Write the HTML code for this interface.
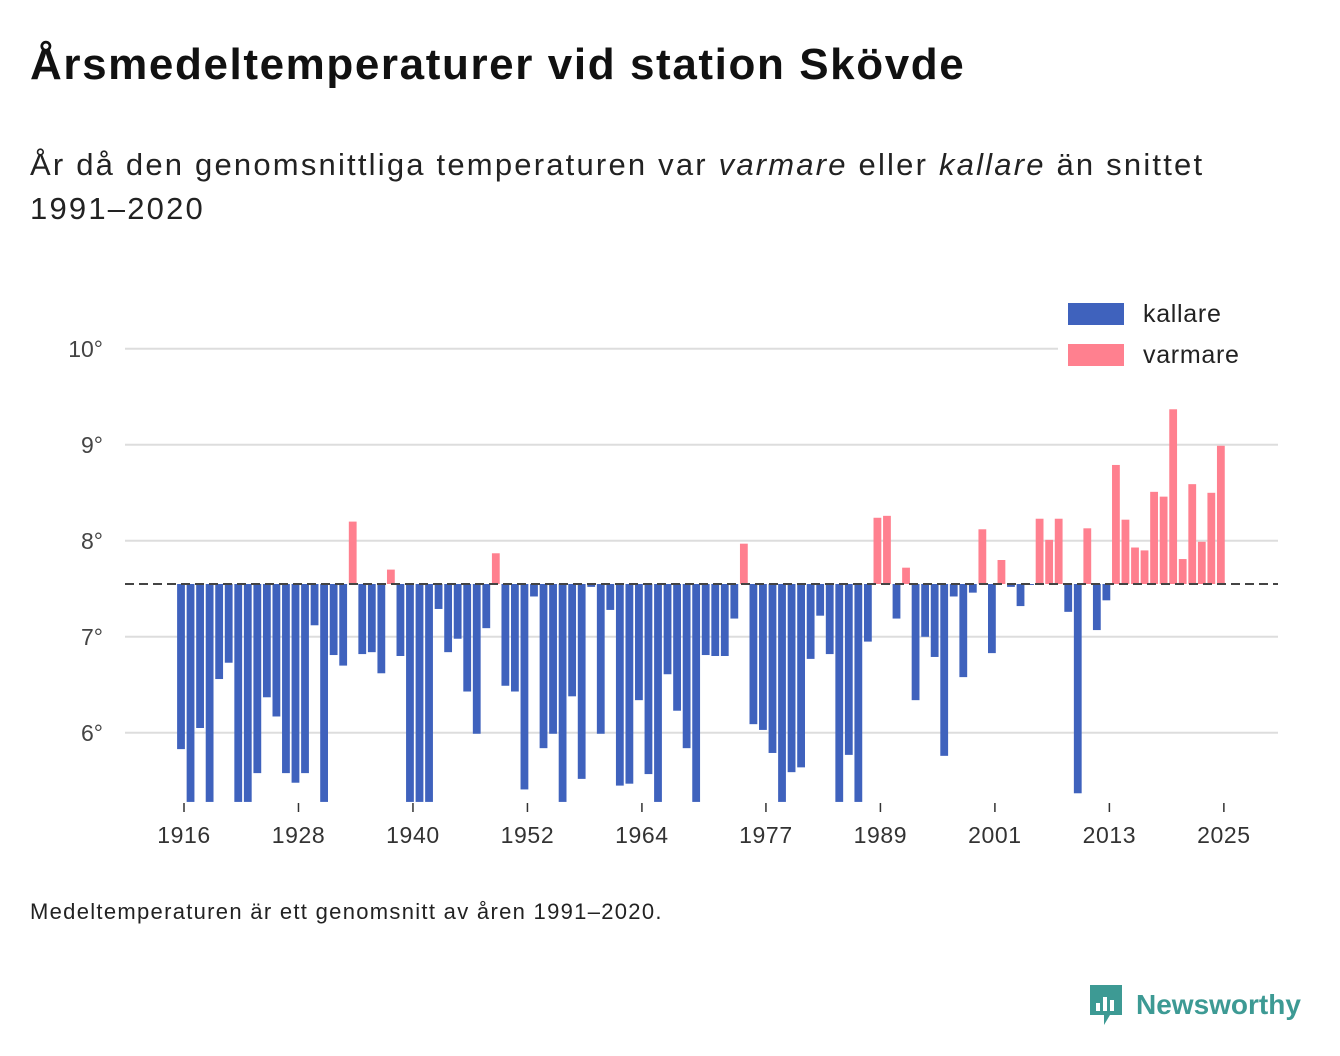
<!DOCTYPE html>
<html><head><meta charset="utf-8">
<style>
body{margin:0;width:1340px;height:1056px;background:#fff;font-family:"Liberation Sans",sans-serif;color:#111;position:relative;overflow:hidden}
h1{position:absolute;left:30px;top:40px;margin:0;font-size:44px;font-weight:bold;letter-spacing:1.6px;white-space:nowrap}
.sub{position:absolute;left:30px;top:143px;font-size:31px;line-height:44px;color:#222;width:1300px;letter-spacing:2.2px}
.foot{position:absolute;left:30px;top:899px;font-size:22px;color:#222;letter-spacing:1.3px;white-space:nowrap}
.logo{position:absolute;left:1088px;top:983px;display:flex;align-items:center;color:#3d9a94;font-weight:bold;font-size:28px}
svg{position:absolute;left:0;top:0}
</style></head><body>
<h1>Årsmedeltemperaturer vid station Skövde</h1>
<div class="sub">År då den genomsnittliga temperaturen var <i>varmare</i> eller <i>kallare</i> än snittet<br>1991–2020</div>
<div class="foot">Medeltemperaturen är ett genomsnitt av åren 1991–2020.</div>
<div class="logo">
<svg style="position:static" width="36" height="44" viewBox="0 0 36 44"><path d="M2 2h32v30H22l-6 10v-10H2z" fill="#3d9a94"/><rect x="8" y="20" width="4" height="8" fill="#fff"/><rect x="15" y="14" width="4" height="14" fill="#fff"/><rect x="22" y="17" width="4" height="11" fill="#fff"/></svg>
<span style="margin-left:12px">Newsworthy</span></div>
<svg id="chart" width="1340" height="1056"></svg>
<script>
const startYear = 1916;
const temps = [5.83,5.2,6.05,5.2,6.56,6.73,5.2,5.2,5.58,6.37,6.17,5.58,5.48,5.58,7.12,5.2,6.81,6.70,8.20,6.82,6.84,6.62,7.70,6.80,5.2,5.2,5.2,7.29,6.84,6.98,6.43,5.99,7.09,7.87,6.49,6.43,5.41,7.42,5.84,5.99,5.2,6.38,5.52,7.52,5.99,7.28,5.45,5.47,6.34,5.57,5.2,6.61,6.23,5.84,5.2,6.81,6.80,6.80,7.19,7.97,6.09,6.03,5.79,5.2,5.59,5.64,6.77,7.22,6.82,5.2,5.77,5.2,6.95,8.24,8.26,7.19,7.72,6.34,7.0,6.79,5.76,7.42,6.58,7.46,8.12,6.83,7.80,7.52,7.32,7.54,8.23,8.01,8.23,7.26,5.37,8.13,7.07,7.38,8.79,8.22,7.93,7.90,8.51,8.46,9.37,7.81,8.59,7.99,8.50,8.99];
const baseline = 7.55;
const yTicks = [6,7,8,9,10];
const xTickYears = [1916,1928,1940,1952,1964,1977,1989,2001,2013,2025];
const NS='http://www.w3.org/2000/svg';
const svg=document.getElementById('chart');
const X=y=>181+(y-startYear)*9.54;
const Y=v=>584-(v-baseline)*96;
const yMin=802;
function mk(t,a){const e=document.createElementNS(NS,t);for(const k in a)e.setAttribute(k,a[k]);svg.appendChild(e);return e;}
yTicks.forEach(v=>{
 const g=mk('line',{x1:125,x2:1278,y1:Y(v),y2:Y(v),stroke:'#ddd','stroke-width':2});
 
 
 const t=mk('text',{x:103,y:Y(v)+8,'text-anchor':'end','font-size':23,fill:'#444','font-family':'Liberation Sans'});
 t.textContent=v+'°';
 
 
});
temps.forEach((v,i)=>{
 const yr=startYear+i;
 const warm=v>=baseline;
 const yv=Math.max(v,5.28);
 const top=warm?Y(v):Y(baseline);
 const bot=warm?Y(baseline):Math.min(Y(yv),yMin);
 const r=mk('rect',{x:X(yr)-3.9,y:top,width:7.8,height:Math.max(bot-top,0.5),fill:warm?'#ff808f':'#3f62bd'});
 
 
});
const bl=mk('line',{x1:125,x2:1278,y1:Y(baseline),y2:Y(baseline),stroke:'#444','stroke-width':2,'stroke-dasharray':'9,5'});


xTickYears.forEach(yr=>{
 const x=X(yr)+3;
 const l=mk('line',{x1:x,x2:x,y1:803,y2:812,stroke:'#333','stroke-width':1.5});
 
 
 const t=mk('text',{x:x,y:843,'text-anchor':'middle','font-size':23,fill:'#333','font-family':'Liberation Sans','letter-spacing':0.6});
 t.textContent=yr;
 
 
});
const lb=mk('rect',{x:1058,y:296,width:220,height:78,fill:'#fff'});


[['kallare','#3f62bd',303],['varmare','#ff808f',344]].forEach(([n,c,y])=>{
 const r=mk('rect',{x:1068,y:y,width:56,height:22,fill:c});
 
 
 const t=mk('text',{x:1143,y:y+19,'font-size':25,fill:'#222','font-family':'Liberation Sans','letter-spacing':0.7});
 t.textContent=n;
 
 
});
</script>
</body></html>
